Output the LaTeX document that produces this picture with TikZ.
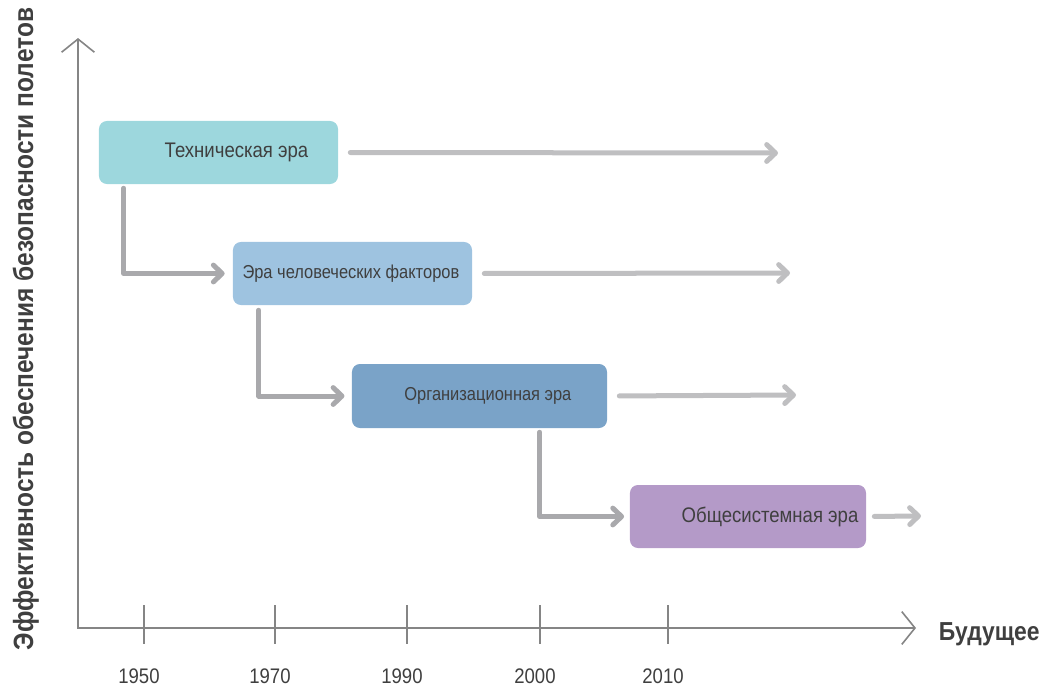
\documentclass[tikz,border=0pt]{standalone}
\usepackage{fontspec}
\setmainfont{Liberation Sans}[FakeStretch=0.88]
\usepackage{tikz}
\usepackage{xcolor}
\usetikzlibrary{arrows.meta}
\definecolor{techfill}{HTML}{9DD7DD}
\definecolor{humanfill}{HTML}{9EC3E0}
\definecolor{orgfill}{HTML}{7AA3C8}
\definecolor{sysfill}{HTML}{B49AC8}
\definecolor{axisgray}{HTML}{858585}
\definecolor{flowgray}{HTML}{BFBFC1}
\definecolor{stepgray}{HTML}{A9A9AC}
\definecolor{textgray}{HTML}{3F3F3F}
\tikzstyle{era} = [rectangle, rounded corners=0.2cm, inner sep=0pt, minimum height=1.575cm, draw=none]
\tikzstyle{axis} = [line width=0.04cm, axisgray]
\tikzstyle{flow} = [line width=0.125cm, flowgray, line cap=round, -{Straight Barb[length=0.22cm, width=0.42cm, round]}, shorten <=0.3cm]
\tikzstyle{stepline} = [line width=0.125cm, stepgray, line cap=round, line join=round, -{Straight Barb[length=0.22cm, width=0.42cm, round]}]
\tikzstyle{yearlabel} = [anchor=base, text=textgray]
\tikzstyle{smalltext} = [font=\fontsize{13.3}{16}\selectfont]

\begin{document}
\begin{tikzpicture}[x=0.025cm, y=-0.025cm, font=\fontsize{15}{18}\selectfont, text=textgray]
    \useasboundingbox (0,0) rectangle (1046,686);

    % axes
    \coordinate (origin) at (78,628);
    \coordinate (ytop) at (78,38);
    \coordinate (xend) at (916,628);
    \draw[axis, {Straight Barb[length=0.33cm, width=0.82cm]}-{Straight Barb[length=0.33cm, width=0.82cm]}] (ytop) -- (origin) -- (xend);
    \foreach \x/\yr in {144/1950, 275/1970, 407/1990, 540/2000, 668/2010} {
        \draw[axis] (\x,605) -- (\x,644);
        \node[yearlabel] (y\yr) at (\x-5,683) {\yr};
    }
    \node[anchor=base west, font=\fontsize{18.5}{22}\selectfont\bfseries] (future) at (934,640) {Будущее};
    \node[rotate=90, anchor=base, font=\fontsize{19.8}{24}\selectfont\bfseries] (efficiency) at (33,329) {Эффективность обеспечения безопасности полетов};

    % eras
    \node[era, fill=techfill, minimum width=5.975cm, label={[xshift=0.45cm]center:Техническая эра}] (tech) at (218.5,152.5) {};
    \node[era, fill=humanfill, minimum width=5.975cm, label={[smalltext, xshift=-0.04cm]center:Эра человеческих факторов}] (human) at (352.5,273.5) {};
    \node[era, fill=orgfill, minimum width=6.375cm, minimum height=1.6cm, label={[smalltext, xshift=0.21cm]center:Организационная эра}] (org) at (479.5,396) {};
    \node[era, fill=sysfill, minimum width=5.9cm, label={[xshift=0.55cm]center:Общесистемная эра}] (sys) at (748,516.5) {};

    \coordinate (techend) at (778,153);
    \coordinate (humanend) at (790,273);
    \coordinate (orgend) at (796,395);
    \coordinate (sysend) at (921,516);
    \draw[flow] (tech.east) -- (techend);
    \draw[flow] (human.east) -- (humanend);
    \draw[flow] (org.east) -- (orgend);
    \draw[flow, shorten <=0.2cm] (sys.east) -- (sysend);

    \draw[stepline, shorten >=0.2cm] ([shift={(25,4)}]tech.south west) |- (human.west);
    \draw[stepline, shorten >=0.18cm] ([shift={(26,5)}]human.south west) |- (org.west);
    \draw[stepline, shorten >=0.14cm] ([shift={(188,4)}]org.south west) |- (sys.west);
\end{tikzpicture}
\end{document}
